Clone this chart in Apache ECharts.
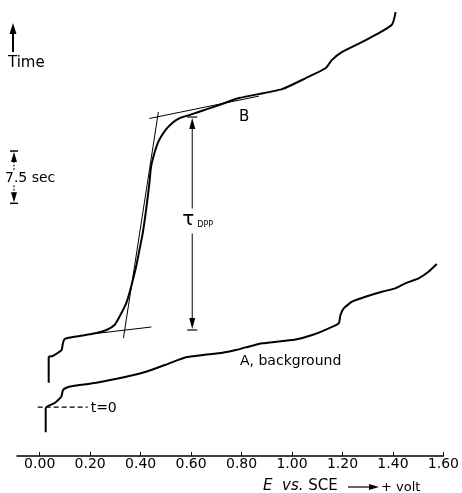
<!DOCTYPE html>
<html><head><meta charset="utf-8">
<script src="https://cdn.jsdelivr.net/npm/echarts@6/dist/echarts.min.js"></script>
<style>html,body{margin:0;padding:0;background:#fff}#c{width:462px;height:493px}</style>
</head><body><div id="c"></div>
<script>
// x: E vs. SCE (volt); y: time (sec), t = 0 at the dashed line
const xTicks = [0, 0.2, 0.4, 0.6, 0.8, 1.0, 1.2, 1.4, 1.6];
const tickLabels = ['0.00','0.20','0.40','0.60','0.80','1.00','1.20','1.40','1.60'];
const curveB = [[0.0356,3.5],[0.0356,7.2],[0.0514,7.35],[0.0711,7.78],[0.0869,8.21],[0.0909,9.0],[0.097,9.7],[0.1106,9.93],[0.158,10.22],[0.2252,10.65],[0.2647,11.08],[0.2963,11.79],[0.3161,12.98],[0.3426,14.9],[0.3556,16.38],[0.3687,18.2],[0.382,20.16],[0.3951,22.55],[0.4082,24.95],[0.4215,28.29],[0.4346,32.12],[0.4413,34.5],[0.4544,36.43],[0.4674,37.86],[0.4808,38.81],[0.5006,39.87],[0.5267,40.82],[0.5531,41.45],[0.5927,41.92],[0.6322,42.4],[0.7112,43.36],[0.7902,44.36],[0.9601,45.65],[1.0549,47.23],[1.1339,48.67],[1.1576,49.81],[1.1971,50.96],[1.292,52.68],[1.3947,54.84],[1.4105,56.7]];
const curveA = [[0.0237,-3.6],[0.0237,-0.2],[0.03,0.1],[0.059,0.6],[0.0857,1.5],[0.092,2.45],[0.1055,2.8],[0.1316,3.04],[0.224,3.52],[0.3426,4.38],[0.4216,5.09],[0.5136,6.3],[0.5796,7.16],[0.6452,7.49],[0.7242,7.82],[0.7772,8.21],[0.8167,8.59],[0.8823,9.17],[0.9613,9.5],[1.0142,9.71],[1.0798,10.36],[1.1458,11.32],[1.1853,12.04],[1.192,13.23],[1.205,14.19],[1.2379,15.14],[1.2908,15.85],[1.3564,16.57],[1.4093,17.06],[1.4489,17.78],[1.5014,18.49],[1.5409,19.44],[1.5737,20.55]];
const tangentTop = [[0.4346,41.43],[0.8692,44.65]];
const tangentSteep = [[0.3319,9.93],[0.4702,42.35]];
const tangentLow = [[0.2213,10.57],[0.4425,11.51]];
const t0Line = [[-0.008,0],[0.19,0]];
const tauE = 0.6045, tauTop = 41.64, tauBottom = 11.08;
const scaleTop = 36.76, scaleBottom = 29.26; // 7.5 sec

const chart = echarts.init(document.getElementById('c'));
const FONT = 'DejaVu Sans';
const lineS = (data, w, extra) => Object.assign({type:'line', data, showSymbol:false, symbol:'none', silent:true, animation:false,
  lineStyle:{color:'#000', width:w}}, extra||{});
chart.setOption({
  animation:false,
  grid:{left:17, right:17, top:10, bottom:37},
  xAxis:{type:'value', min:-0.09, max:1.6,
    axisLine:{onZero:false, lineStyle:{color:'#000', width:1.5}},
    axisTick:{inside:true, length:4, customValues:xTicks, lineStyle:{color:'#000', width:1}},
    axisLabel:{customValues:xTicks, formatter:v=>tickLabels[xTicks.findIndex(t=>Math.abs(t-v)<1e-6)], color:'#000', fontSize:14, fontFamily:FONT, margin:1},
    splitLine:{show:false}},
  yAxis:{type:'value', min:-7, max:57, show:false},
  series:[
    lineS(curveB, 2, {smooth:0.2}),
    lineS(curveA, 2, {smooth:0.15}),
    lineS(tangentTop, 1),
    lineS(tangentSteep, 1),
    lineS(tangentLow, 1),
    lineS(t0Line, 1.2, {lineStyle:{color:'#000', width:1.2, type:[5,3]}})
  ]
});

const P = (e,t) => chart.convertToPixel({gridIndex:0}, [e,t]);
const seg = (x1,y1,x2,y2,w,dash) => ({type:'line', shape:{x1,y1,x2,y2}, style:{stroke:'#000', lineWidth:w||1, lineDash:dash||null}, silent:true});
const head = (x,y,dir,len,hw) => ({type:'polygon', shape:{points:[[x,y],[x-hw,y+dir*len],[x+hw,y+dir*len]]}, style:{fill:'#000'}, silent:true});
const txt = (text,x,y,size,extra) => ({type:'text', x, y, style:Object.assign({text, fill:'#000', font:size+'px '+FONT, verticalAlign:'middle'}, extra||{}), silent:true});

const g = [];
// tau arrow
const [tx, ty1] = P(tauE, tauTop);
const ty2 = P(tauE, tauBottom)[1];
const mid = (ty1+ty2)/2;
g.push(seg(tx-5,ty1,tx+5,ty1,1.2), seg(tx-5,ty2,tx+5,ty2,1.2));
g.push(head(tx,ty1+1,1,11,3), head(tx,ty2-1,-1,11,3));
g.push(seg(tx,ty1+10,tx,mid-15,1), seg(tx,mid+10,tx,ty2-10,1));
g.push(txt('τ', tx-10, mid-4, 20));
g.push(txt('DPP', tx+5, mid+1, 8));
// scale bar 7.5 sec
const sy1 = P(0, scaleTop)[1], sy2 = P(0, scaleBottom)[1];
const sx = 14, sm = (sy1+sy2)/2;
g.push(seg(sx-4,sy1,sx+4,sy1,1.5), seg(sx-4,sy2,sx+4,sy2,1.5));
g.push(head(sx,sy1+1,1,10,3), head(sx,sy2-1,-1,10,3));
g.push(seg(sx,sy1+10,sx,sm-7,1,[2,1.5]), seg(sx,sm+8,sx,sy2-10,1,[2,1.5]));
g.push(txt('7.5 sec', 5, sm+1, 14));
// Time arrow
g.push(seg(13,33,13,52,2), head(13,23,1,11,3.5));
g.push(txt('Time', 8, 63, 15));
// labels
g.push(txt('B', 239, 117, 15));
g.push(txt('A, background', 240, 361, 14));
const t0 = P(0.19, 0);
g.push(txt('t=0', t0[0]+3, t0[1]+1, 14));
// axis name
g.push(txt('{i|E}  {i|vs.} SCE', 263, 486, 15, {rich:{i:{fontStyle:'italic', font:'italic 15px '+FONT}}}));
g.push(seg(348,487,370,487,1.2), {type:'polygon', shape:{points:[[379,487],[369,484],[369,490]]}, style:{fill:'#000'}, silent:true});
g.push(txt('+ volt', 381, 488, 13));
chart.setOption({graphic:g});
</script></body></html>
